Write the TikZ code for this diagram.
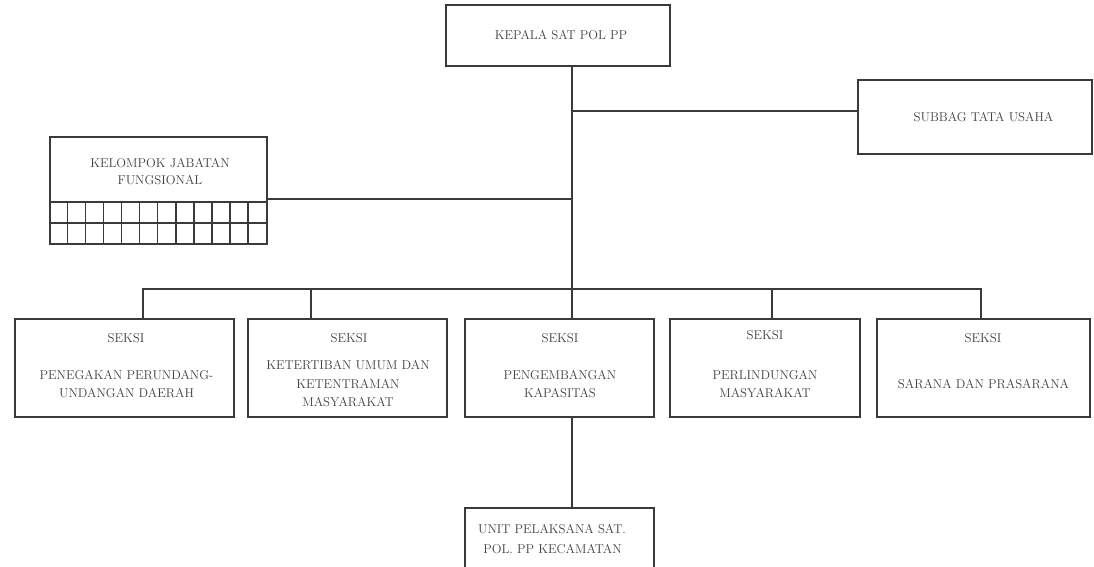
\documentclass[tikz,border=0pt]{standalone}
\usepackage{xcolor}
\usetikzlibrary{calc}
\definecolor{linec}{HTML}{3A3A3A}
\definecolor{textc}{HTML}{424242}
\begin{document}
\begin{tikzpicture}[x=1pt,y=-1pt,
  box/.style={draw=linec, line width=1.6pt, inner sep=0pt, fill=white},
  conn/.style={draw=linec, line width=1.5pt},
  txt/.style={text=textc, inner sep=0pt, anchor=base, font=\fontsize{12.8}{15}\selectfont}]
\useasboundingbox (0,0) rectangle (1094,567);
\fill[white] (0,0) rectangle (1094,567);

% coordinates of the trunk and bus
\coordinate (trunk) at (572,66);
\coordinate (j1) at (572,111);
\coordinate (j2) at (572,199);
\coordinate (bus) at (572,289);
\coordinate (busL) at (143,289);
\coordinate (bus2) at (311,289);
\coordinate (bus4) at (772,289);
\coordinate (busR) at (981,289);

% boxes
\node[box, minimum width=224pt, minimum height=61pt] (kepala) at (558,35.5) {};
\node[box, minimum width=234pt, minimum height=74pt] (subbag) at (975,117) {};
\node[box, minimum width=217pt, minimum height=65pt] (kel) at (158.5,169.5) {};
\node[box, minimum width=217pt, minimum height=42pt] (grid) at (158.5,223) {};
\node[box, minimum width=219pt, minimum height=98pt] (s1) at (124.5,368) {};
\node[box, minimum width=199pt, minimum height=98pt] (s2) at (347.5,368) {};
\node[box, minimum width=189pt, minimum height=98pt] (s3) at (559.5,368) {};
\node[box, minimum width=190pt, minimum height=98pt] (s4) at (765,368) {};
\node[box, minimum width=213pt, minimum height=98pt] (s5) at (983.5,368) {};
\node[box, minimum width=189pt, minimum height=90pt] (unit) at (559.5,553) {};

% grid of kelompok jabatan fungsional
\foreach \i in {1,...,11} {
  \draw[conn] ($(grid.north west)+(\i*217/12,0)$) -- ($(grid.south west)+(\i*217/12,0)$);
}
\draw[conn] (grid.west) -- (grid.east);

% connectors
\draw[conn] (kepala.south -| trunk) -- (bus);
\draw[conn] (j1) -- (j1 -| subbag.west);
\draw[conn] (j2) -- (j2 -| kel.east);
\draw[conn] (busL |- s1.north) -- (busL) -- (busR) -- (busR |- s5.north);
\draw[conn] (bus2) -- (bus2 |- s2.north);
\draw[conn] (bus) -- (bus |- s3.north);
\draw[conn] (bus4) -- (bus4 |- s4.north);
\draw[conn] (s3.south -| bus) -- (unit.north -| bus);

% texts
\node[txt] (tkep) at (561,39.4) {KEPALA SAT POL PP};
\node[txt] (tsub) at (983.5,121.4) {SUBBAG TATA USAHA};
\node[txt] (tkel1) at (160,167.4) {KELOMPOK JABATAN};
\node[txt] (tkel2) at (160,184.4) {FUNGSIONAL};

\node[txt] (t1a) at (126,342.4) {SEKSI};
\node[txt] (t1b) at (126.5,379.4) {PENEGAKAN PERUNDANG-};
\node[txt] (t1c) at (126.5,397.4) {UNDANGAN DAERAH};

\node[txt] (t2a) at (349,342.4) {SEKSI};
\node[txt] (t2b) at (348,369.4) {KETERTIBAN UMUM DAN};
\node[txt] (t2c) at (348,388.4) {KETENTRAMAN};
\node[txt] (t2d) at (348,406.4) {MASYARAKAT};

\node[txt] (t3a) at (560,342.4) {SEKSI};
\node[txt] (t3b) at (560,379.4) {PENGEMBANGAN};
\node[txt] (t3c) at (560,397.4) {KAPASITAS};

\node[txt] (t4a) at (765,339.4) {SEKSI};
\node[txt] (t4b) at (765,379.4) {PERLINDUNGAN};
\node[txt] (t4c) at (765,397.4) {MASYARAKAT};

\node[txt] (t5a) at (983,342.4) {SEKSI};
\node[txt] (t5b) at (983.5,388.4) {SARANA DAN PRASARANA};

\node[txt] (tu1) at (552,533.4) {UNIT PELAKSANA SAT.};
\node[txt] (tu2) at (552.5,553.4) {POL. PP KECAMATAN};
\end{tikzpicture}
\end{document}
